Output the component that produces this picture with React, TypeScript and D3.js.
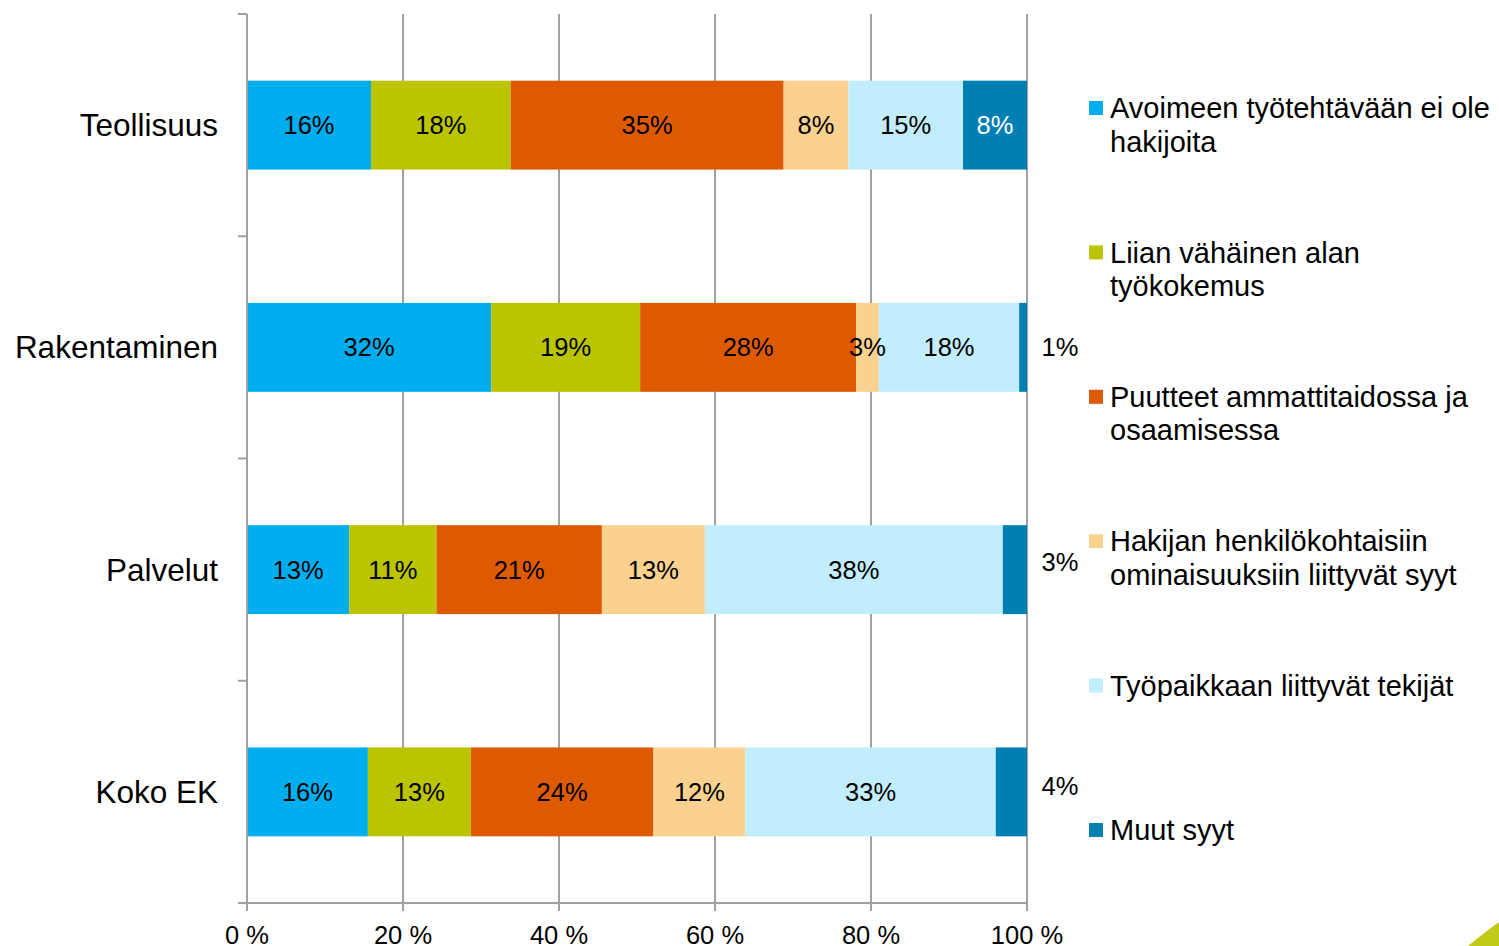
import React from "react";
import * as d3 from "d3";

const categories = ["Teollisuus", "Rakentaminen", "Palvelut", "Koko EK"];
const seriesNames = [
  "Avoimeen työtehtävään ei ole|hakijoita",
  "Liian vähäinen alan|työkokemus",
  "Puutteet ammattitaidossa ja|osaamisessa",
  "Hakijan henkilökohtaisiin|ominaisuuksiin liittyvät syyt",
  "Työpaikkaan liittyvät tekijät",
  "Muut syyt",
];
const seriesColors = ["#00AEEF", "#BBC400", "#DE5A00", "#FBD190", "#C2EDFC", "#007FB2"];
// values (%) per category, in series order
const teollisuus = [15.9, 17.9, 35.0, 8.3, 14.7, 8.2];
const rakentaminen = [31.3, 19.1, 27.7, 2.9, 18.0, 1.0];
const palvelut = [13.1, 11.2, 21.2, 13.2, 38.2, 3.1];
const kokoEK = [15.5, 13.2, 23.4, 11.8, 32.1, 4.0];
const labelTexts = [
  ["16%", "18%", "35%", "8%", "15%", "8%"],
  ["32%", "19%", "28%", "3%", "18%", "1%"],
  ["13%", "11%", "21%", "13%", "38%", "3%"],
  ["16%", "13%", "24%", "12%", "33%", "4%"],
];
const xTicks = [0, 20, 40, 60, 80, 100];
const xTickLabels = ["0 %", "20 %", "40 %", "60 %", "80 %", "100 %"];

const rows = [teollisuus, rakentaminen, palvelut, kokoEK];

export default function App() {
  const W = 1499, H = 946;
  const x = d3.scaleLinear().domain([0, 100]).range([247, 1027]);
  const y = d3.scaleBand<string>().domain(categories).range([14, 903]).paddingInner(0.6).paddingOuter(0.3);
  const step = y.step();
  const font = "'Liberation Sans', Arial, sans-serif";
  const outsideOffsets: Record<number, number> = { 1: 0, 2: -8, 3: -6 };

  const legendY0 = 108, legendStep = 144.4;

  return (
    <svg width={W} height={H} style={{ position: "absolute", left: 0, top: 0, background: "#fff" }} fontFamily={font}>
      {/* gridlines */}
      {xTicks.slice(1).map((t) => (
        <line key={t} x1={x(t)} x2={x(t)} y1={14} y2={903} stroke="#A0A0A0" strokeWidth={2} />
      ))}
      {/* bars */}
      {rows.map((vals, ci) => {
        const cat = categories[ci];
        const y0 = y(cat)!;
        const bh = y.bandwidth();
        const cum = d3.cumsum(vals);
        return (
          <g key={cat}>
            {vals.map((v, si) => {
              const start = si === 0 ? 0 : cum[si - 1];
              return (
                <rect key={si} x={x(start)} y={y0} width={x(start + v) - x(start)} height={bh} fill={seriesColors[si]} />
              );
            })}
            {vals.map((v, si) => {
              const start = si === 0 ? 0 : cum[si - 1];
              const isOutside = si === 5 && ci > 0;
              const cx = isOutside ? x(100) + 33 : (x(start) + x(start + v)) / 2;
              const cy = y0 + bh / 2 + (isOutside ? outsideOffsets[ci] : 0);
              const fill = si === 5 && !isOutside ? "#fff" : "#000";
              return (
                <text key={"l" + si} x={cx} y={cy} dy="0.35em" textAnchor="middle" fontSize={25.5} fill={fill}>
                  {labelTexts[ci][si]}
                </text>
              );
            })}
            <text x={218} y={y0 + bh / 2} dy="0.35em" textAnchor="end" fontSize={31.5} fill="#000">
              {cat}
            </text>
          </g>
        );
      })}
      {/* y axis */}
      <line x1={247} x2={247} y1={14} y2={903} stroke="#A0A0A0" strokeWidth={2} />
      {d3.range(categories.length + 1).map((i) => (
        <line key={i} x1={238} x2={247} y1={14 + i * step} y2={14 + i * step} stroke="#A0A0A0" strokeWidth={2} />
      ))}
      {/* x axis */}
      <line x1={238} x2={1027} y1={903} y2={903} stroke="#A0A0A0" strokeWidth={2} />
      {xTicks.map((t, i) => (
        <g key={t}>
          <line x1={x(t)} x2={x(t)} y1={903} y2={911} stroke="#A0A0A0" strokeWidth={2} />
          <text x={x(t)} y={944} textAnchor="middle" fontSize={25.5} fill="#000">
            {xTickLabels[i]}
          </text>
        </g>
      ))}
      {/* legend */}
      {seriesNames.map((name, i) => {
        const ly = legendY0 + i * legendStep;
        const lines = name.split("|");
        return (
          <g key={name}>
            <rect x={1089} y={ly - 7} width={14} height={14} fill={seriesColors[i]} />
            {lines.map((ln, j) => (
              <text key={j} x={1110} y={ly + j * 33.5} dy="0.35em" fontSize={29} fill="#000">
                {ln}
              </text>
            ))}
          </g>
        );
      })}
      {/* decorative corner swoosh */}
      <path d="M1468,946 Q1485,932 1499,922 L1499,946 Z" fill="#BBC400" opacity={0.9} />
    </svg>
  );
}
